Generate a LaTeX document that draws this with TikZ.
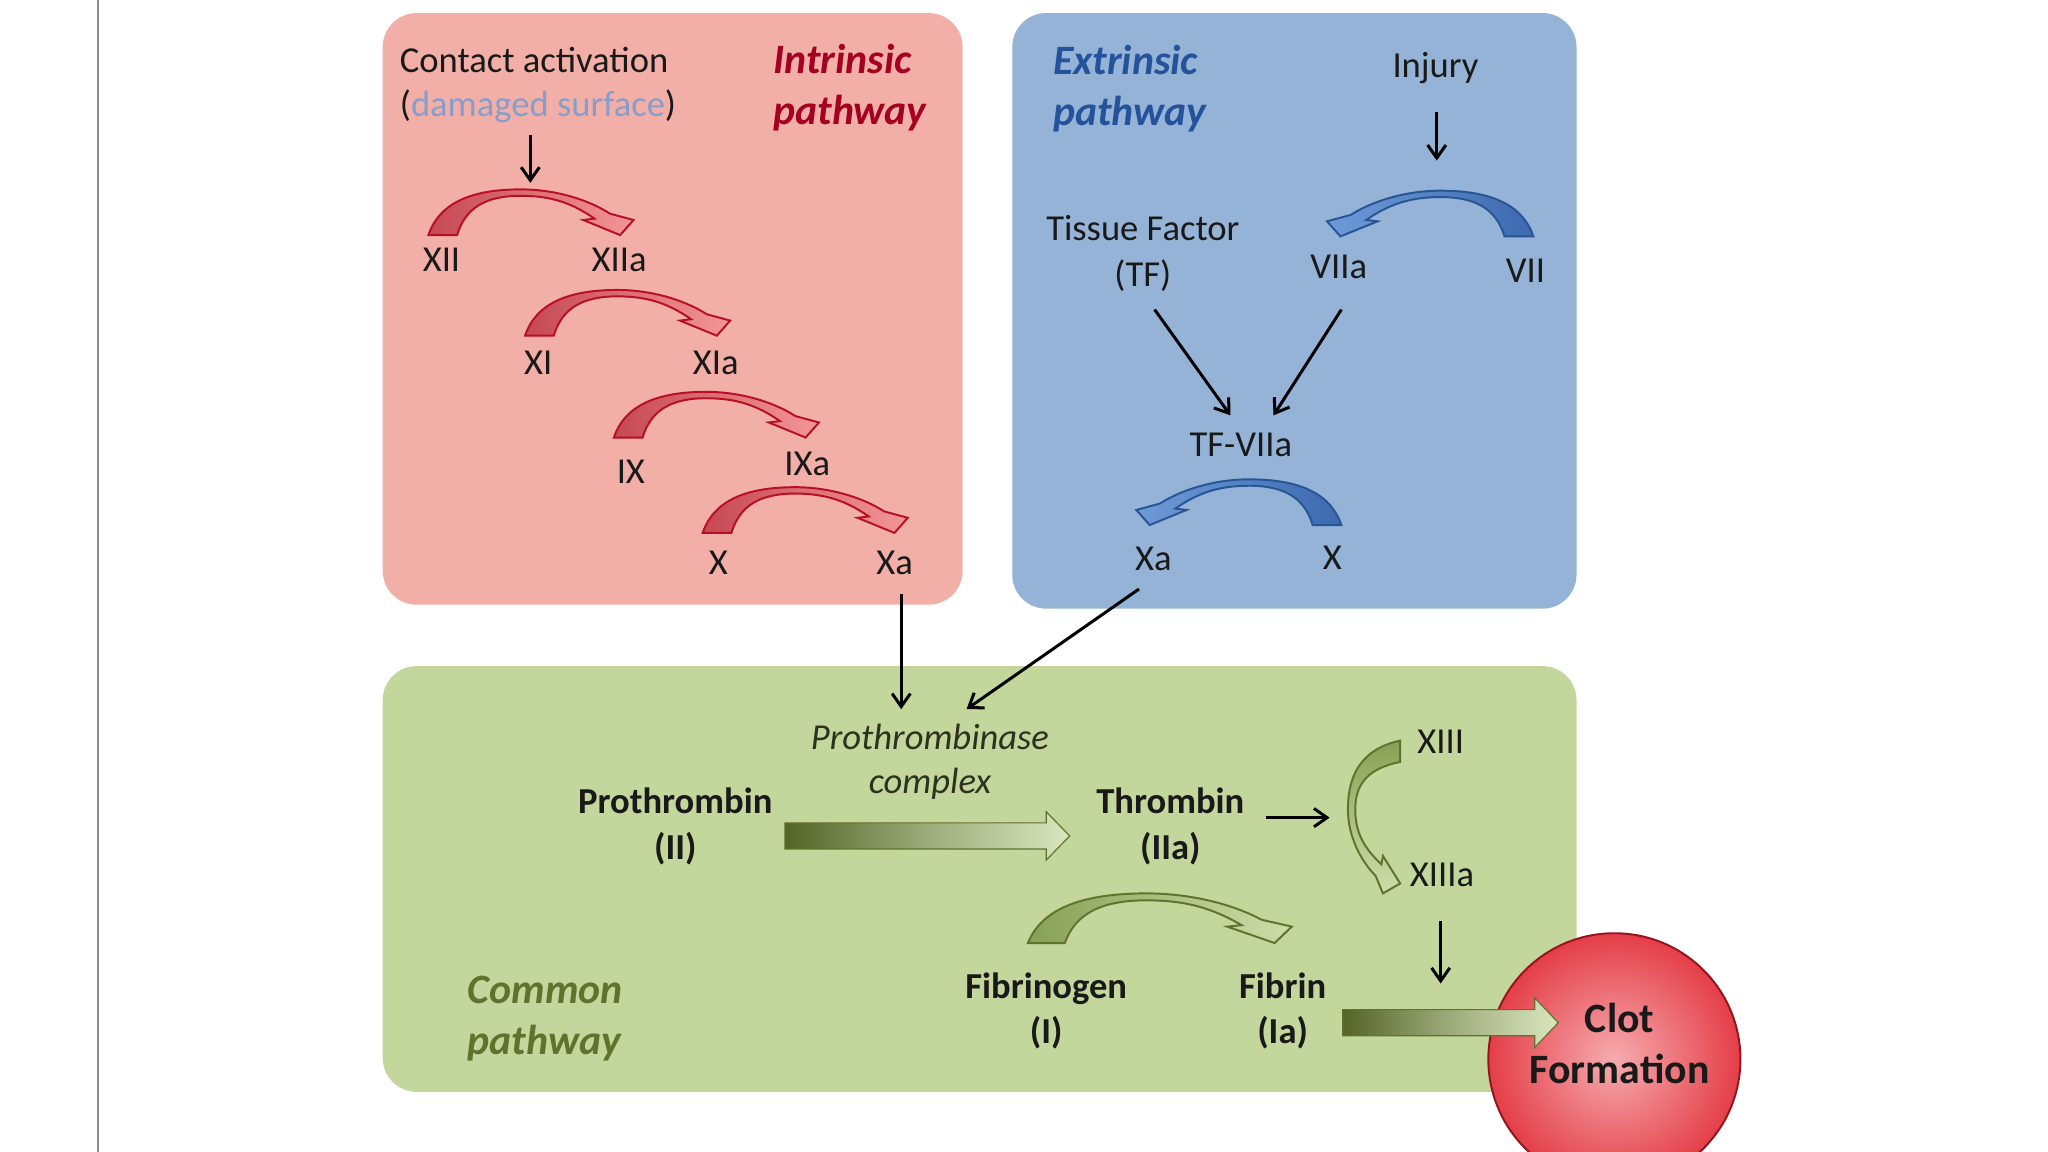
\documentclass[tikz,border=0pt]{standalone}
\usepackage{fontspec}
\setmainfont{Carlito}
\usetikzlibrary{arrows.meta,shadings}

\definecolor{redbox}{RGB}{242,175,167}
\definecolor{bluebox}{RGB}{149,179,215}
\definecolor{greenbox}{RGB}{195,214,155}
\definecolor{intrred}{RGB}{165,0,33}
\definecolor{extrblue}{RGB}{36,82,155}
\definecolor{commongreen}{RGB}{95,115,45}
\definecolor{dmgblue}{RGB}{135,158,205}
\definecolor{txt}{RGB}{25,25,25}
\definecolor{ptctxt}{RGB}{45,50,30}
\definecolor{redline}{RGB}{185,15,35}
\definecolor{redfoot}{RGB}{198,72,84}
\definecolor{redhead}{RGB}{242,150,152}
\definecolor{blueline}{RGB}{40,85,150}
\definecolor{bluefoot}{RGB}{60,105,175}
\definecolor{bluehead}{RGB}{110,155,215}
\definecolor{greenline}{RGB}{95,115,45}
\definecolor{greenfoot}{RGB}{135,160,85}
\definecolor{greenhead}{RGB}{205,222,170}
\definecolor{arrowdark}{RGB}{85,100,40}
\definecolor{arrowlight}{RGB}{218,230,190}
\definecolor{clotin}{RGB}{246,172,175}
\definecolor{clotout}{RGB}{228,62,72}
\definecolor{clotline}{RGB}{150,20,30}
\definecolor{vline}{RGB}{140,140,140}

% curved band arrow: #1 style, #2 origin (outer foot corner), #3 x vector (foot->head), #4 y vector (bulge)
\newcommand{\bandarrow}[4]{%
\begin{scope}[shift={#2},x={#3},y={#4}]
\path[#1] (0,0) .. controls (0.06,0.8) and (0.25,1) .. (0.45,1)
 .. controls (0.64,1) and (0.80,0.72) .. (0.885,0.47)
 -- (1,0.33) -- (0.935,0) -- (0.755,0.33) -- (0.81,0.36)
 .. controls (0.70,0.7) and (0.60,0.86) .. (0.45,0.86)
 .. controls (0.28,0.86) and (0.18,0.6) .. (0.14,0) -- cycle;
\end{scope}}

\begin{document}
\begin{tikzpicture}[x=1pt,y=-1pt,
  lbl/.style={font=\fontsize{28}{35}\selectfont, text=txt, inner sep=0pt, align=center},
  blbl/.style={lbl, font=\fontsize{28}{35}\selectfont\bfseries},
  ttl/.style={font=\fontsize{32}{39}\selectfont\bfseries\itshape, inner sep=0pt, align=left},
  arr/.style={draw=black, line width=2.3pt, -{Straight Barb[length=10pt,width=14pt]}},
  redband/.style={draw=redline, line width=1.5pt, left color=redfoot, right color=redhead},
  blueband/.style={draw=blueline, line width=1.5pt, left color=bluehead, right color=bluefoot},
  greenband/.style={draw=greenline, line width=1.5pt, left color=greenfoot, right color=greenhead},
  greenbandv/.style={draw=greenline, line width=1.5pt, top color=greenfoot, bottom color=greenhead},
  blockarr/.style={draw=greenline, line width=0.9pt, left color=arrowdark, right color=arrowlight, middle color=arrowdark!45!arrowlight},
  panel/.style={rounded corners=26pt}
]
\useasboundingbox (0,0) rectangle (1568,882);
\clip (0,0) rectangle (1568,882);
\fill[white] (0,0) rectangle (1568,882);
\draw[vline, line width=1.8pt] (75,0) -- (75,882);

% panels
\fill[redbox, panel] (293,10) rectangle (737,463);
\fill[bluebox, panel] (775,10) rectangle (1207,466);
\fill[greenbox, panel] (293,510) rectangle (1207,836);

% ---------- intrinsic ----------
\node[lbl, anchor=west] (contact) at (306,46) {Contact activation};
\node[lbl, anchor=west] (damaged) at (306,81) {(\textcolor{dmgblue}{damaged surface})};
\node[ttl, text=intrred, anchor=west] (intr) at (592,67) {Intrinsic\\pathway};

\bandarrow{redband}{(328,180)}{(157pt,0pt)}{(0pt,35pt)}
\bandarrow{redband}{(402,257)}{(157pt,0pt)}{(0pt,35pt)}
\bandarrow{redband}{(470,335)}{(157pt,0pt)}{(0pt,35pt)}
\bandarrow{redband}{(538,408)}{(157pt,0pt)}{(0pt,35pt)}

\node[lbl] (xii) at (338,199) {XII};
\node[lbl] (xiia) at (474,199) {XIIa};
\node[lbl] (xi) at (412,278) {XI};
\node[lbl] (xia) at (548,278) {XIa};
\node[lbl] (ix) at (483,361) {IX};
\node[lbl] (ixa) at (618,355) {IXa};
\node[lbl] (x) at (550,431) {X};
\node[lbl] (xa) at (685,431) {Xa};

\coordinate (caS) at (406,103);
\coordinate (caE) at (406,140);
\draw[arr] (caS) -- (caE);

% ---------- extrinsic ----------
\node[ttl, text=extrblue, anchor=west] (extr) at (806,68) {Extrinsic\\pathway};
\node[lbl] (injury) at (1099,52) {Injury};
\coordinate (injS) at (1100,86);
\coordinate (injE) at (1100,123);
\draw[arr] (injS) -- (injE);

\bandarrow{blueband}{(1174,181)}{(-158pt,0pt)}{(0pt,35pt)}
\bandarrow{blueband}{(1027,402)}{(-157pt,0pt)}{(0pt,35pt)}

\node[lbl] (tf) at (875,194) {Tissue Factor\\(TF)};
\node[lbl] (viia) at (1025,204) {VIIa};
\node[lbl] (vii) at (1168,207) {VII};
\node[lbl] (tfviia) at (950,341) {TF-VIIa};
\node[lbl] (bxa) at (883,428) {Xa};
\node[lbl] (bx) at (1020,427) {X};

\coordinate (tfS) at (884,237);
\coordinate (tfE) at (942,318);
\coordinate (vaS) at (1027,237);
\coordinate (vaE) at (975,318);
\draw[arr] (tfS) -- (tfE);
\draw[arr] (vaS) -- (vaE);

% ---------- common ----------
\node[lbl, font=\fontsize{28}{34}\selectfont\itshape, text=ptctxt] (ptc) at (712,583) {Prothrombinase\\complex};
\coordinate (ixaS) at (690,455);
\coordinate (ixaE) at (690,543);
\coordinate (exaS) at (872,451);
\coordinate (exaE) at (740,543);
\draw[arr] (ixaS) -- (ixaE);
\draw[arr] (exaS) -- (exaE);

\node[blbl] (pro) at (517,633) {Prothrombin\\(II)};
\node[blbl] (thr) at (896,633) {Thrombin\\(IIa)};
\path[blockarr] (601,630) -- (801,630) -- (801,621.5) -- (819,640) -- (801,658.5) -- (801,650) -- (601,650) -- cycle;

\coordinate (thS) at (969,626);
\coordinate (thE) at (1018,626);
\draw[arr] (thS) -- (thE);

\bandarrow{greenbandv}{(1072,567)}{(0pt,-117pt)}{(-40pt,0pt)}
\node[lbl] (xiii) at (1103,568) {XIII};
\node[lbl] (xiiia) at (1104,670) {XIIIa};

\bandarrow{greenband}{(787,722)}{(202pt,0pt)}{(0pt,38pt)}
\node[blbl] (fbg) at (801,774) {Fibrinogen\\(I)};
\node[blbl] (fbn) at (982,774) {Fibrin\\(Ia)};

\coordinate (x13S) at (1103,705);
\coordinate (x13E) at (1103,753);
\draw[arr] (x13S) -- (x13E);

\node[ttl, text=commongreen, anchor=west] (common) at (358,780) {Common\\pathway};

% clot
\node[circle, minimum size=193pt, inner sep=0pt, draw=clotline, line width=1.5pt, inner color=clotin, outer color=clotout] (clot) at (1236,811) {};
\path[blockarr] (1028,773) -- (1175,773) -- (1175,764) -- (1193,783) -- (1175,802) -- (1175,793) -- (1028,793) -- cycle;
\node[font=\fontsize{32}{39}\selectfont\bfseries, text=txt, inner sep=0pt, align=center] (clottxt) at (1240,799) {Clot\\Formation};
\end{tikzpicture}
\end{document}
